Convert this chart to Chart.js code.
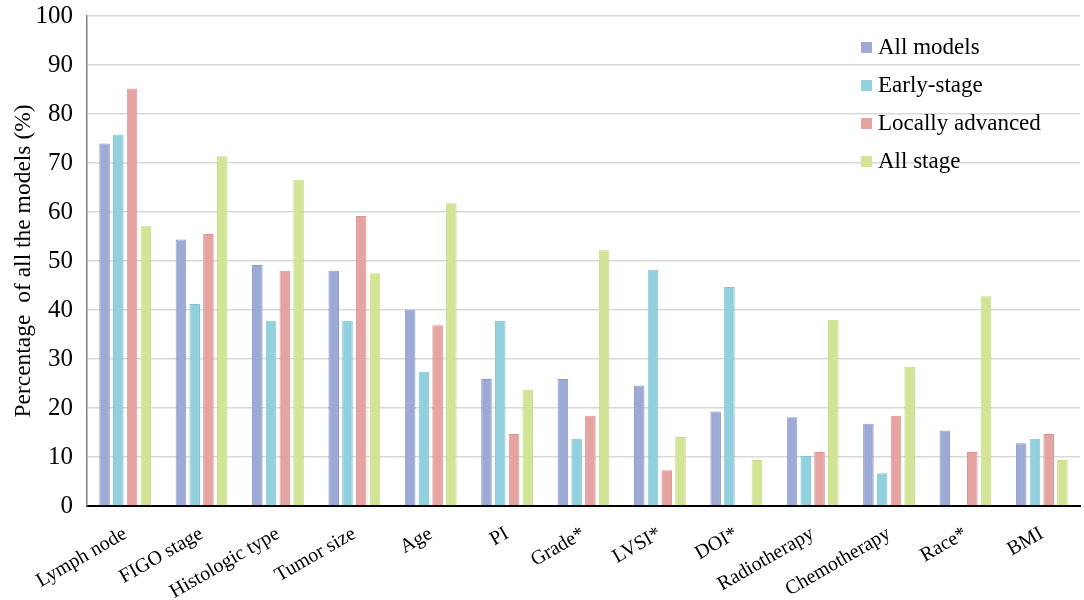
<!DOCTYPE html>
<html>
<head>
<meta charset="utf-8">
<script src="https://cdn.jsdelivr.net/npm/chart.js@4.4.1/dist/chart.umd.min.js"></script>
<style>
html,body{margin:0;padding:0;background:#fff;}
#wrap{width:1084px;height:600px;position:relative;}
</style>
</head>
<body>
<div id="wrap"><canvas id="c" width="1084" height="600"></canvas></div>
<script>
const categories = ["Lymph node","FIGO stage","Histologic type","Tumor size","Age","PI","Grade*","LVSI*","DOI*","Radiotherapy","Chemotherapy","Race*","BMI"];
const allModels      = [74.0, 54.4, 49.2, 48.0, 40.1, 25.9, 25.9, 24.6, 19.3, 18.1, 16.8, 15.4, 12.8];
const earlyStage     = [75.8, 41.2, 37.8, 37.8, 27.4, 37.8, 13.7, 48.2, 44.7, 10.2, 6.7, null, 13.7];
const locallyAdvanced= [85.2, 55.5, 48.0, 59.2, 36.9, 14.7, 18.4, 7.3, null, 11.0, 18.4, 11.0, 14.7];
const allStage       = [57.1, 71.4, 66.6, 47.5, 61.8, 23.7, 52.2, 14.1, 9.4, 38.0, 28.4, 42.8, 9.4];
const seriesNames = ["All models","Early-stage","Locally advanced","All stage"];
const yTicks = [0,10,20,30,40,50,60,70,80,90,100];

const fills   = ["#9eaad6","#93d0de","#e5a3a1","#d2e597"];
const borders = ["#8d9bcc","#84c5d5","#dc9593","#c6dc88"];
const seriesData = [allModels, earlyStage, locallyAdvanced, allStage];

const FONT = "'Liberation Serif','Times New Roman',serif";

const legendPlugin = {
  id: 'customLegend',
  afterDatasetsDraw(chart) {
    const ctx = chart.ctx;
    ctx.save();
    ctx.font = "23px " + FONT;
    ctx.textBaseline = 'middle';
    ctx.textAlign = 'left';
    chart.data.datasets.forEach((ds, i) => {
      const y = 48 + i * 38;
      ctx.fillStyle = ds.backgroundColor;
      ctx.fillRect(861, y - 6, 11, 11);
      ctx.fillStyle = '#000';
      ctx.fillText(ds.label, 878, y);
    });
    ctx.restore();
  }
};

new Chart(document.getElementById('c'), {
  type: 'bar',
  data: {
    labels: categories,
    datasets: seriesNames.map((n, i) => ({
      label: n,
      data: seriesData[i],
      backgroundColor: fills[i],
      borderColor: borders[i],
      borderWidth: 1,
      categoryPercentage: 0.72,
      barPercentage: 0.77
    }))
  },
  options: {
    responsive: false,
    animation: false,
    layout: { padding: { top: 16, right: 4, left: 0, bottom: 0 } },
    plugins: {
      legend: { display: false },
      tooltip: { enabled: false }
    },
    scales: {
      x: {
        grid: { display: false },
        border: { display: true, color: '#000', width: 2 },
        afterFit(scale) { scale.height = 94; scale.paddingTop = 0; scale.paddingBottom = 0; },
        ticks: {
          color: '#000',
          font: { family: FONT, size: 20 },
          maxRotation: 30, minRotation: 30,
          autoSkip: false,
          padding: 8
        }
      },
      y: {
        min: 0, max: 100,
        afterBuildTicks(scale) { scale.ticks = yTicks.map(v => ({ value: v })); },
        afterFit(scale) { scale.width = 87; scale.paddingTop = 0; scale.paddingBottom = 0; },
        grid: { color: '#d9d9d9', lineWidth: 1.5, drawTicks: false },
        border: { display: true, color: '#808080', width: 1.5 },
        ticks: {
          color: '#000',
          font: { family: FONT, size: 25, lineHeight: 1 },
          padding: 14
        },
        title: {
          display: true,
          text: 'Percentage  of all the models (%)',
          color: '#000',
          font: { family: FONT, size: 23.5 },
          padding: { top: 10, bottom: 0 }
        }
      }
    }
  },
  plugins: [legendPlugin]
});
</script>
</body>
</html>
